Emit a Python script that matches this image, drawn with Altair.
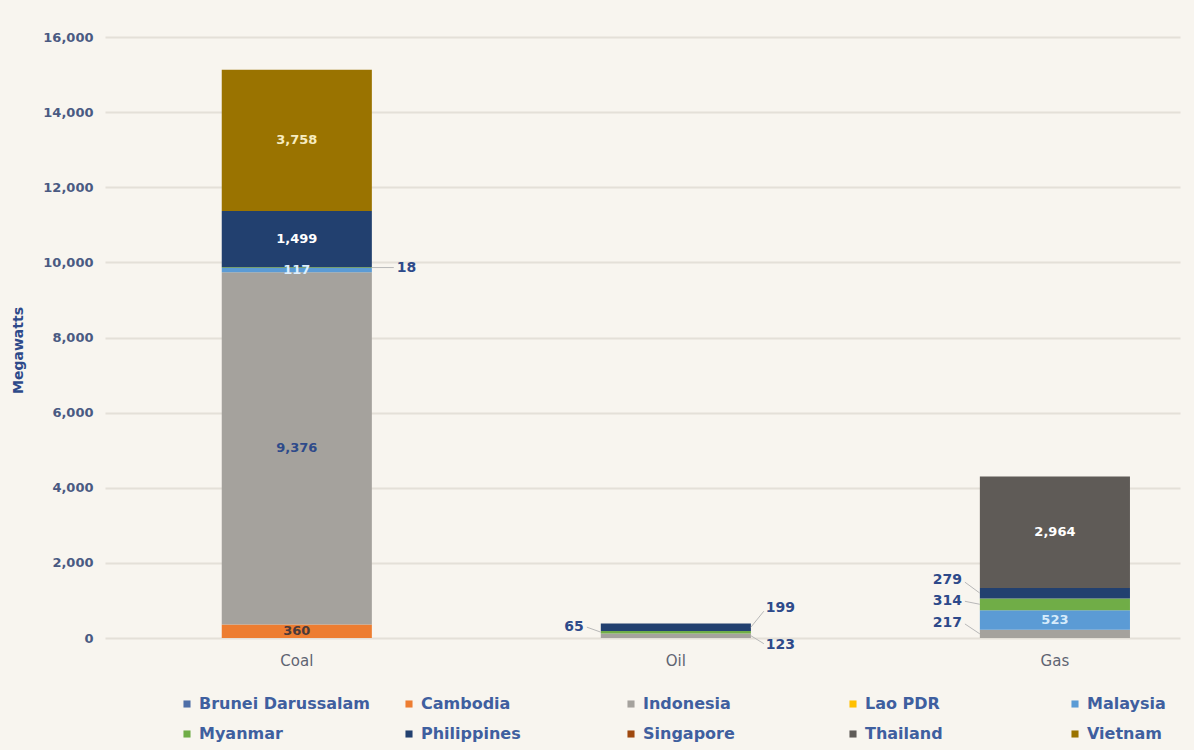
import altair as alt
import pandas as pd

# ---- data ----
sources = ["Coal", "Oil", "Gas"]
countries = ["Brunei Darussalam", "Cambodia", "Indonesia", "Lao PDR", "Malaysia",
             "Myanmar", "Philippines", "Singapore", "Thailand", "Vietnam"]
colors = ["#4f6fa8", "#ed7d31", "#a5a29d", "#ffc000", "#5b9bd5",
          "#70ad47", "#22406f", "#9e480e", "#5f5b57", "#9a7300"]

coal = [0, 360, 9376, 0, 117, 18, 1499, 0, 0, 3758]
oil = [0, 0, 123, 0, 0, 65, 199, 0, 0, 0]
gas = [0, 0, 217, 0, 523, 314, 279, 0, 2964, 0]

y_ticks = [0, 2000, 4000, 6000, 8000, 10000, 12000, 14000, 16000]

# ---- label styling (pixel offsets / colours, not data) ----
inside_style = {
    ("Coal", "Cambodia"): "#4a3a3a",
    ("Coal", "Indonesia"): "#2e4a8a",
    ("Coal", "Malaysia"): "#dcefff",
    ("Coal", "Philippines"): "#ffffff",
    ("Coal", "Vietnam"): "#f6ecc0",
    ("Gas", "Malaysia"): "#d6ebfb",
    ("Gas", "Thailand"): "#ffffff",
}
# (text dx, text dy, align, leader x0, leader x1, leader dy end)
outside_style = {
    ("Coal", "Myanmar"): (100, 0, "left", 75, 97, 0),
    ("Oil", "Myanmar"): (-92, -5, "right", -75, -89, -5),
    ("Oil", "Philippines"): (90, -19, "left", 75, 88, -16),
    ("Oil", "Indonesia"): (90, 9, "left", 75, 88, 8),
    ("Gas", "Philippines"): (-93, -13, "right", -75, -90, -11),
    ("Gas", "Myanmar"): (-93, -3, "right", -75, -90, -3),
    ("Gas", "Indonesia"): (-93, -11, "right", -75, -90, -10),
}

rows = []
for s, vals in zip(sources, [coal, oil, gas]):
    cum = 0
    for i, (c, v) in enumerate(zip(countries, vals)):
        if v > 0:
            rows.append(dict(source=s, country=c, order=i, start=cum, end=cum + v,
                             mid=cum + v / 2, label=f"{v:,}"))
            cum += v
df = pd.DataFrame(rows)

FONT = "DejaVu Sans"
xscale = alt.Scale(domain=sources, paddingInner=0.604, paddingOuter=0.22, align=0.7)
yscale = alt.Scale(domain=[0, 16000], nice=False)

base = alt.Chart(df)

bars = base.mark_bar().encode(
    x=alt.X("source:N", sort=sources, scale=xscale,
            axis=alt.Axis(title=None, labelAngle=0, labelFont=FONT, labelFontSize=15,
                          labelColor="#5f6472", labelPadding=15, ticks=False, domain=False,
                          grid=False)),
    y=alt.Y("start:Q", scale=yscale,
            axis=alt.Axis(values=y_ticks, format=",.0f", title="Megawatts",
                          labelFont=FONT, labelFontWeight="bold", labelFontSize=13,
                          labelColor="#4a5a82", labelPadding=12, ticks=False, domain=False,
                          grid=True, gridColor="#e4e0d8", gridWidth=2,
                          titleFont=FONT, titleFontSize=14, titleFontWeight="bold",
                          titleColor="#2e4a8a", titleX=-87, titleY=313,
                          titleAngle=270, titleAlign="center", titleBaseline="middle")),
    y2="end:Q",
    color=alt.Color("country:N", scale=alt.Scale(domain=countries, range=colors),
                    legend=alt.Legend(title=None, orient="none", legendX=74, legendY=659,
                                      direction="horizontal",
                                      columns=5, gridAlign="all", columnPadding=31,
                                      rowPadding=14, symbolType="square", symbolSize=50,
                                      symbolStrokeWidth=0, labelFont=FONT,
                                      labelFontWeight="bold", labelFontSize=16,
                                      labelColor="#3f5f9f", labelLimit=300,
                                      symbolOffset=0, labelOffset=4, padding=0)),
    order=alt.Order("order:Q"),
)

layers = [bars]

# inside labels
for (s, c), col in inside_style.items():
    sub = df[(df.source == s) & (df.country == c)]
    layers.append(
        alt.Chart(sub).mark_text(font=FONT, fontWeight="bold", fontSize=13, color=col,
                                 baseline="middle").encode(
            x=alt.X("source:N", sort=sources, scale=xscale),
            y=alt.Y("mid:Q", scale=yscale),
            text="label:N",
        )
    )

# outside labels + leader lines
for (s, c), (dx, dy, al, lx0, lx1, ldy) in outside_style.items():
    sub = df[(df.source == s) & (df.country == c)]
    layers.append(
        alt.Chart(sub).mark_rule(color="#b8b8b8", strokeWidth=1, xOffset=lx0, x2Offset=lx1,
                                 yOffset=0, y2Offset=ldy).encode(
            x=alt.X("source:N", sort=sources, scale=xscale),
            x2=alt.X2("source:N"),
            y=alt.Y("mid:Q", scale=yscale),
            y2=alt.Y2("mid:Q"),
        )
    )
    layers.append(
        alt.Chart(sub).mark_text(font=FONT, fontWeight="bold", fontSize=14, color="#2e4a8a",
                                 align=al, baseline="middle", dx=dx, dy=dy).encode(
            x=alt.X("source:N", sort=sources, scale=xscale),
            y=alt.Y("mid:Q", scale=yscale),
            text="label:N",
        )
    )

chart = alt.layer(*layers).properties(
    width=1075, height=601,
    autosize=alt.AutoSizeParams(type="none"),
    padding={"left": 105, "top": 37, "right": 14, "bottom": 112},
).configure(background="#f8f5ef").configure_view(stroke=None)

chart.save("out.html", embed_options={"renderer": "svg", "actions": False})
